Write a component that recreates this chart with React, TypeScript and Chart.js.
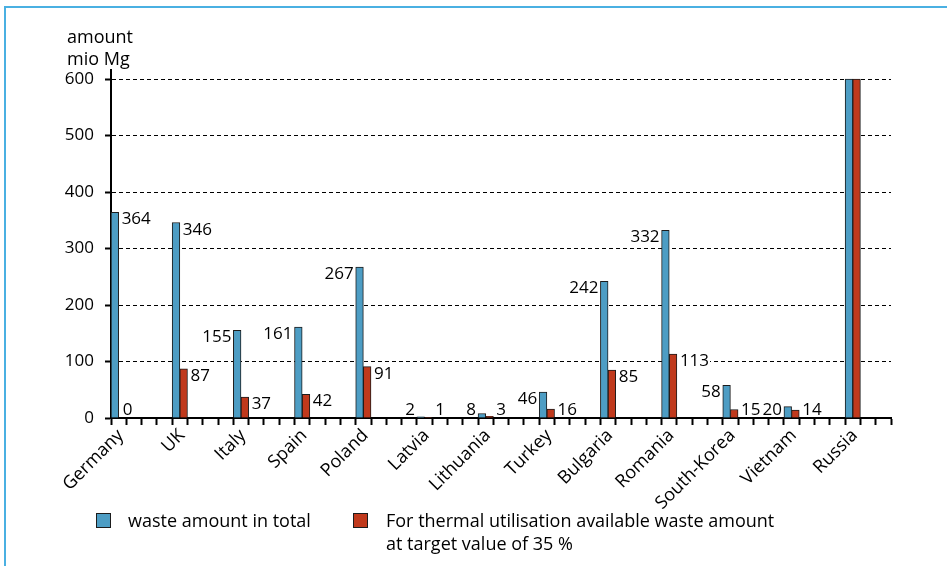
import React, { useEffect, useRef } from "react";
import { Chart, registerables } from "chart.js";

Chart.register(...registerables);

const countries = [
  "Germany", "UK", "Italy", "Spain", "Poland", "Latvia", "Lithuania",
  "Turkey", "Bulgaria", "Romania", "South-Korea", "Vietnam", "Russia",
];
const wasteTotal = [364, 346, 155, 161, 267, 2, 8, 46, 242, 332, 58, 20, 600];
const thermalAvailable = [0, 87, 37, 42, 91, 1, 3, 16, 85, 113, 15, 14, 600];
const yTickValues = [0, 100, 200, 300, 400, 500, 600];
const seriesNames = [
  ["waste amount in total"],
  ["For thermal utilisation available waste amount", "at target value of 35 %"],
];
const yTitleLines = ["amount", "mio Mg"];
const unlabelledCountries = ["Russia"];
const blueLabelRightOf = ["Germany", "UK"];

const SLOTS_PER_COUNTRY = 4;
const X_MAX = countries.length * SLOTS_PER_COUNTRY - 1;
const Y_MAX = 616;

const BLUE = "#4d9dc4";
const RED = "#c0391c";
const EDGE = "#1c1c1c";
const FONT = "'Open Sans', sans-serif";
const FS_NUM = 17;
const FS_TEXT = 18;

const W = 947;
const H = 566;
const AREA_LEFT = 111;
const AREA_RIGHT = 891;
const AREA_TOP = 70;
const AREA_BOTTOM = 418;
const X_SCALE_H = 100;
const PAD_BOTTOM = H - AREA_BOTTOM - X_SCALE_H;
const SLOT_PX = (AREA_RIGHT - AREA_LEFT) / X_MAX;

const valueLabels = {
  id: "valueLabels",
  afterDatasetsDraw(chart: any) {
    const ctx = chart.ctx;
    const base = chart.scales.y.getPixelForValue(0);
    ctx.save();
    ctx.font = `${FS_NUM}px ${FONT}`;
    ctx.textBaseline = "alphabetic";
    chart.data.datasets.forEach((ds: any, di: number) => {
      const meta = chart.getDatasetMeta(di);
      meta.data.forEach((bar: any, i: number) => {
        const name = countries[i];
        if (unlabelledCountries.includes(name)) return;
        const v = ds.data[i].y;
        const text = String(v);
        const half = bar.width / 2;
        const baseline = Math.min(bar.y + 12, base - 3);
        const tw = ctx.measureText(text).width;
        let left: number;
        if (di === 0 && !blueLabelRightOf.includes(name)) {
          left = bar.x - half - 2 - tw;
        } else if (v === 0) {
          left = bar.x - half + 4;
        } else {
          left = bar.x + half + 3;
        }
        ctx.fillStyle = "#fff";
        ctx.fillRect(left - 1, baseline - 13, tw + 2, 15);
        ctx.fillStyle = "#000";
        ctx.textAlign = "left";
        ctx.fillText(text, left, baseline);
      });
    });
    ctx.restore();
  },
};

const titleAndLegend = {
  id: "titleAndLegend",
  afterDraw(chart: any) {
    const ctx = chart.ctx;
    ctx.save();
    ctx.font = `${FS_TEXT}px ${FONT}`;
    ctx.fillStyle = "#000";
    ctx.textAlign = "left";
    ctx.textBaseline = "alphabetic";
    yTitleLines.forEach((t, k) => ctx.fillText(t, 67, 43 + k * 22));

    const items = [
      { box: 96, text: 128 },
      { box: 353, text: 386 },
    ];
    chart.data.datasets.forEach((ds: any, di: number) => {
      const it = items[di];
      ctx.fillStyle = ds.backgroundColor;
      ctx.fillRect(it.box, 513, 15, 15);
      ctx.strokeStyle = EDGE;
      ctx.lineWidth = 1;
      ctx.strokeRect(it.box + 0.5, 513.5, 14, 14);
      ctx.fillStyle = "#000";
      seriesNames[di].forEach((line, k) => ctx.fillText(line, it.text, 527 + k * 23));
    });
    ctx.restore();
  },
};

export default function App() {
  const ref = useRef<HTMLCanvasElement | null>(null);

  useEffect(() => {
    document.body.style.margin = "0";
    if (!ref.current) return;
    Chart.defaults.font.family = FONT;
    Chart.defaults.font.size = FS_NUM;
    Chart.defaults.color = "#000";

    const toPoints = (vals: number[]) =>
      vals.map((y, i) => ({ x: i * SLOTS_PER_COUNTRY + 0.5, y }));

    const chart = new Chart(ref.current, {
      type: "bar",
      data: {
        datasets: [
          {
            label: seriesNames[0].join(" "),
            data: toPoints(wasteTotal),
            backgroundColor: BLUE,
            borderColor: EDGE,
            borderWidth: 1,
            categoryPercentage: 1,
            barPercentage: 1,
          },
          {
            label: seriesNames[1].join(" "),
            data: toPoints(thermalAvailable),
            backgroundColor: RED,
            borderColor: EDGE,
            borderWidth: 1,
            categoryPercentage: 1,
            barPercentage: 1,
          },
        ],
      },
      options: {
        responsive: false,
        animation: false,
        devicePixelRatio: 1,
        layout: {
          padding: { left: 0, top: AREA_TOP, right: W - AREA_RIGHT, bottom: PAD_BOTTOM },
        },
        plugins: {
          legend: { display: false },
          tooltip: { enabled: false },
        },
        scales: {
          x: {
            type: "linear",
            min: 0,
            max: X_MAX,
            bounds: "data",
            offset: false,
            afterBuildTicks: (scale: any) => {
              scale.ticks = Array.from({ length: X_MAX + 1 }, (_, k) => ({ value: k }));
            },
            afterFit: (scale: any) => {
              scale.height = X_SCALE_H;
            },
            grid: {
              offset: false,
              drawOnChartArea: false,
              drawTicks: true,
              tickLength: 7,
              tickColor: "#000",
              tickWidth: 2,
            },
            border: { display: true, color: "#000", width: 2 },
            ticks: {
              autoSkip: false,
              maxRotation: 45,
              minRotation: 45,
              padding: 0,
              labelOffset: SLOT_PX / 2 + 2,
              font: { size: FS_TEXT, family: FONT },
              color: "#000",
              callback: (value: any) => {
                const v = Number(value);
                if (v % SLOTS_PER_COUNTRY !== 0) return "";
                return countries[v / SLOTS_PER_COUNTRY] ?? "";
              },
            },
          },
          y: {
            type: "linear",
            min: 0,
            max: Y_MAX,
            bounds: "data",
            afterBuildTicks: (scale: any) => {
              scale.ticks = yTickValues.map((value) => ({ value }));
            },
            afterFit: (scale: any) => {
              scale.width = AREA_LEFT;
            },
            grid: {
              color: "#000",
              lineWidth: 1,
              drawTicks: true,
              tickLength: 6,
              tickColor: "#000",
              tickWidth: 2,
            },
            border: { display: true, color: "#000", width: 2, dash: [4, 3] },
            ticks: {
              padding: 11,
              font: { size: FS_NUM, family: FONT },
              color: "#000",
              callback: (value: any) => String(value),
            },
          },
        },
      },
      plugins: [valueLabels, titleAndLegend],
    } as any);

    return () => chart.destroy();
  }, []);

  return (
    <div style={{ position: "fixed", left: 0, top: 0, width: W, height: H, overflow: "hidden", background: "#fff" }}>
      <div
        style={{
          position: "absolute",
          left: 4,
          top: 6,
          width: 2000,
          height: 2000,
          border: "2px solid #4ab0e2",
        }}
      />
      <canvas ref={ref} width={W} height={H} style={{ position: "absolute", left: 0, top: 0 }} />
    </div>
  );
}
